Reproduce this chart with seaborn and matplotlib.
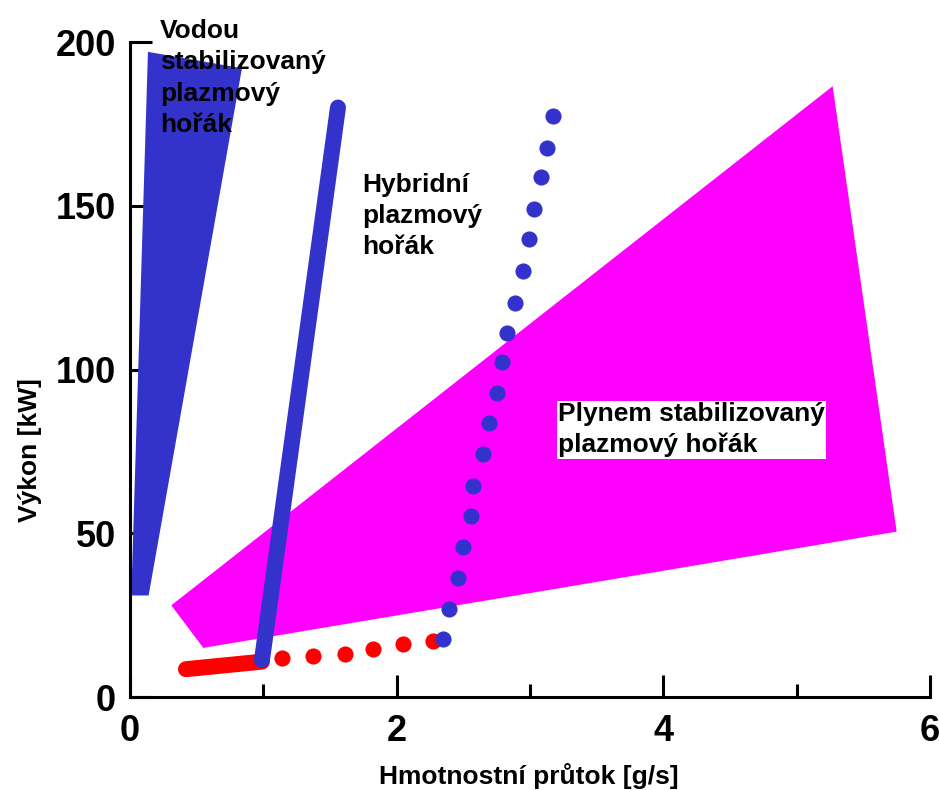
import matplotlib
matplotlib.use("Agg")
import matplotlib.pyplot as plt
import seaborn as sns
import pandas as pd

# ---- data ----
water_x = [0.01, 0.14, 0.84, 0.135]
water_y = [31, 31, 192, 197]

gas_x = [0.31, 0.55, 5.75, 5.27]
gas_y = [28, 15, 50.5, 186.5]

hybrid_x = [0.99, 1.56]
hybrid_y = [11.3, 180]

red_line_x = [0.42, 0.99]
red_line_y = [8.5, 10.8]

red_pts_x = [1.14, 1.37, 1.61, 1.82, 2.05, 2.27]
red_pts_y = [11.9, 12.6, 13.2, 14.7, 16.3, 17.1]

blue_pts_x = [2.35, 2.39, 2.46, 2.50, 2.56, 2.57, 2.65, 2.69, 2.75,
              2.79, 2.83, 2.89, 2.95, 2.99, 3.03, 3.08, 3.13, 3.17]
blue_pts_y = [17.7, 26.9, 36.3, 45.8, 55.3, 64.4, 74.2, 83.7, 92.8,
              102.3, 111.1, 120.3, 130.1, 139.8, 149.0, 158.8, 167.6, 177.4]

x_major = [0, 2, 4, 6]
x_minor = [1, 3, 5]
y_major = [0, 50, 100, 150, 200]

label_water = "Vodou\nstabilizovaný\nplazmový\nhořák"
label_hybrid = "Hybridní\nplazmový\nhořák"
label_gas = "Plynem stabilizovaný\nplazmový hořák"
xlabel = "Hmotnostní průtok [g/s]"
ylabel = "Výkon [kW]"

BLUE = "#3333CC"
MAGENTA = "#FF00FF"
RED = "#FF0000"

sns.set_style("ticks")
plt.rcParams["font.family"] = ["Liberation Sans", "DejaVu Sans"]
plt.rcParams["font.weight"] = "bold"
for k in ["text.color", "axes.labelcolor", "xtick.color", "ytick.color",
          "axes.edgecolor", "xtick.labelcolor", "ytick.labelcolor"]:
    plt.rcParams[k] = "black"

fig = plt.figure(figsize=(9.39, 7.9), dpi=100)
ax = fig.add_axes([0.1384, 0.1177, 0.852, 0.8291])
ax.set_axisbelow(True)

ax.fill(gas_x, gas_y, color=MAGENTA, lw=0, zorder=1)
ax.fill(water_x, water_y, color=BLUE, lw=0, zorder=2)

red_df = pd.DataFrame({"x": red_line_x, "y": red_line_y})
sns.lineplot(data=red_df, x="x", y="y", ax=ax, color=RED, lw=11.5,
             solid_capstyle="round", sort=False, estimator=None, zorder=3)
hyb_df = pd.DataFrame({"x": hybrid_x, "y": hybrid_y})
sns.lineplot(data=hyb_df, x="x", y="y", ax=ax, color=BLUE, lw=11.5,
             solid_capstyle="round", sort=False, estimator=None, zorder=4)

rp = pd.DataFrame({"x": red_pts_x, "y": red_pts_y})
sns.scatterplot(data=rp, x="x", y="y", ax=ax, color=RED, s=135,
                marker="o", linewidth=0, zorder=4)
bp = pd.DataFrame({"x": blue_pts_x, "y": blue_pts_y})
sns.scatterplot(data=bp, x="x", y="y", ax=ax, color=BLUE, s=135,
                marker="o", linewidth=0, zorder=5)

ax.set_xlim(0, 6)
ax.set_ylim(0, 200)
ax.set_xticks(x_major)
ax.set_xticks(x_minor, minor=True)
ax.set_yticks(y_major)
ax.set_xticklabels([str(v) for v in x_major])
ax.set_yticklabels([str(v) for v in y_major])

for s in ["top", "right"]:
    ax.spines[s].set_visible(False)
for s in ["left", "bottom"]:
    ax.spines[s].set_linewidth(2.2)
    ax.spines[s].set_color("black")

ax.tick_params(axis="both", which="major", direction="in", length=16,
               width=2.2, labelsize=26, pad=10, colors="black")
ax.tick_params(axis="x", which="minor", direction="in", length=9.5,
               width=2.2, colors="black")
ax.tick_params(axis="x", which="major", pad=12)
for lab in ax.get_xticklabels() + ax.get_yticklabels():
    lab.set_fontweight("bold")

ax.set_xlabel(xlabel, fontsize=19, fontweight="bold", color="black")
ax.set_ylabel(ylabel, fontsize=19, fontweight="bold", color="black")
ax.xaxis.set_label_coords(0.499, -0.1)
ax.yaxis.set_label_coords(-0.11, 0.377)

ax.text(0.225, 207, label_water, fontsize=19, fontweight="bold",
        color="black", va="top", ha="left", linespacing=1.38,
        clip_on=False, zorder=6)
ax.text(1.74, 160, label_hybrid, fontsize=19, fontweight="bold",
        color="black", va="top", ha="left", linespacing=1.38, zorder=6)
ax.text(3.21, 90, label_gas, fontsize=19, fontweight="bold",
        color="black", va="top", ha="left", linespacing=1.33, zorder=6,
        bbox=dict(facecolor="white", edgecolor="none", pad=1))

fig.savefig("out.png", dpi=100)
